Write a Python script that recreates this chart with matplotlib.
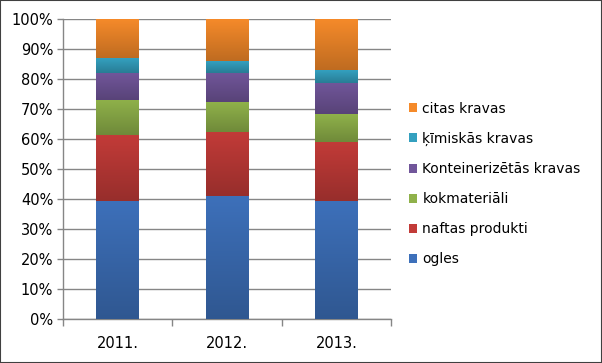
import numpy as np
import matplotlib
matplotlib.use('Agg')
import matplotlib.pyplot as plt
from matplotlib.colors import to_rgb, LinearSegmentedColormap
from matplotlib.patches import Rectangle

# dati (% no kopējā apjoma)
years = ['2011.', '2012.', '2013.']
series_names = ['ogles', 'naftas produkti', 'kokmateriāli',
                'Konteinerizētās kravas', 'ķīmiskās kravas', 'citas kravas']
ogles = [39.4, 41.0, 39.4]
naftas = [21.9, 21.4, 19.7]
kokmat = [11.8, 10.0, 9.2]
konteiner = [9.0, 9.7, 10.6]
kimiskas = [5.0, 3.9, 4.1]
citas = [12.9, 14.0, 17.0]
colors = ['#3d70ba', '#c23b38', '#8fb14a', '#71569a', '#34a0bf', '#f58a2a']

plt.rcParams['font.family'] = ['DejaVu Sans']
fig = plt.figure(figsize=(6.02, 3.63), dpi=100)
ax = fig.add_axes([0.1047, 0.1212, 0.5449, 0.8256])

data = [ogles, naftas, kokmat, konteiner, kimiskas, citas]
x = np.arange(len(years))
bottom = np.zeros(len(years))
bar_w = 0.39
for vals, name, col in zip(data, series_names, colors):
    vals = np.array(vals)
    bars = ax.bar(x, vals, bar_w, bottom=bottom, color=col, label=name, zorder=2)
    # Excel stila gradients: augšā gaišāks, apakšā tumšāks
    c = np.array(to_rgb(col))
    cmap = LinearSegmentedColormap.from_list('g', [c * 0.78, c * 1.0])
    for p in bars:
        x0, y0 = p.get_x(), p.get_y()
        grad = np.linspace(0, 1, 64).reshape(-1, 1)
        ax.imshow(grad, cmap=cmap, origin='lower', aspect='auto', zorder=3,
                  extent=(x0, x0 + p.get_width(), y0, y0 + p.get_height()))
    bottom += vals

ax.set_xlim(-0.5, len(years) - 0.5)
ax.set_ylim(0, 100)
ax.set_yticks(np.arange(0, 101, 10))
ax.set_yticklabels([f'{v}%' for v in range(0, 101, 10)])
ax.set_xticks(x)
ax.set_xticklabels(years)
ax.set_xticks(np.arange(-0.5, len(years)), minor=True)
ax.tick_params(axis='x', which='major', length=0, pad=12, labelsize=10.5)
ax.tick_params(axis='x', which='minor', length=5, color='#868686', width=1)
ax.tick_params(axis='y', length=4, color='#868686', width=1, pad=3, labelsize=10.5)
ax.grid(axis='y', color='#868686', linewidth=1, zorder=0)
ax.set_axisbelow(True)
for s in ['top', 'right']:
    ax.spines[s].set_visible(False)
for s in ['left', 'bottom']:
    ax.spines[s].set_color('#868686')
    ax.spines[s].set_linewidth(1)

handles, labels = ax.get_legend_handles_labels()
fig.legend(handles[::-1], labels[::-1], loc='upper left',
           bbox_to_anchor=(0.668, 0.739), frameon=False, fontsize=10,
           handlelength=0.6, handleheight=0.6, handletextpad=0.35,
           labelspacing=1.16, borderpad=0)

fig.patches.append(Rectangle((0, 0), 1, 1, transform=fig.transFigure,
                             fill=False, edgecolor='#404040', linewidth=1.5))
fig.savefig('out.png', dpi=100)
